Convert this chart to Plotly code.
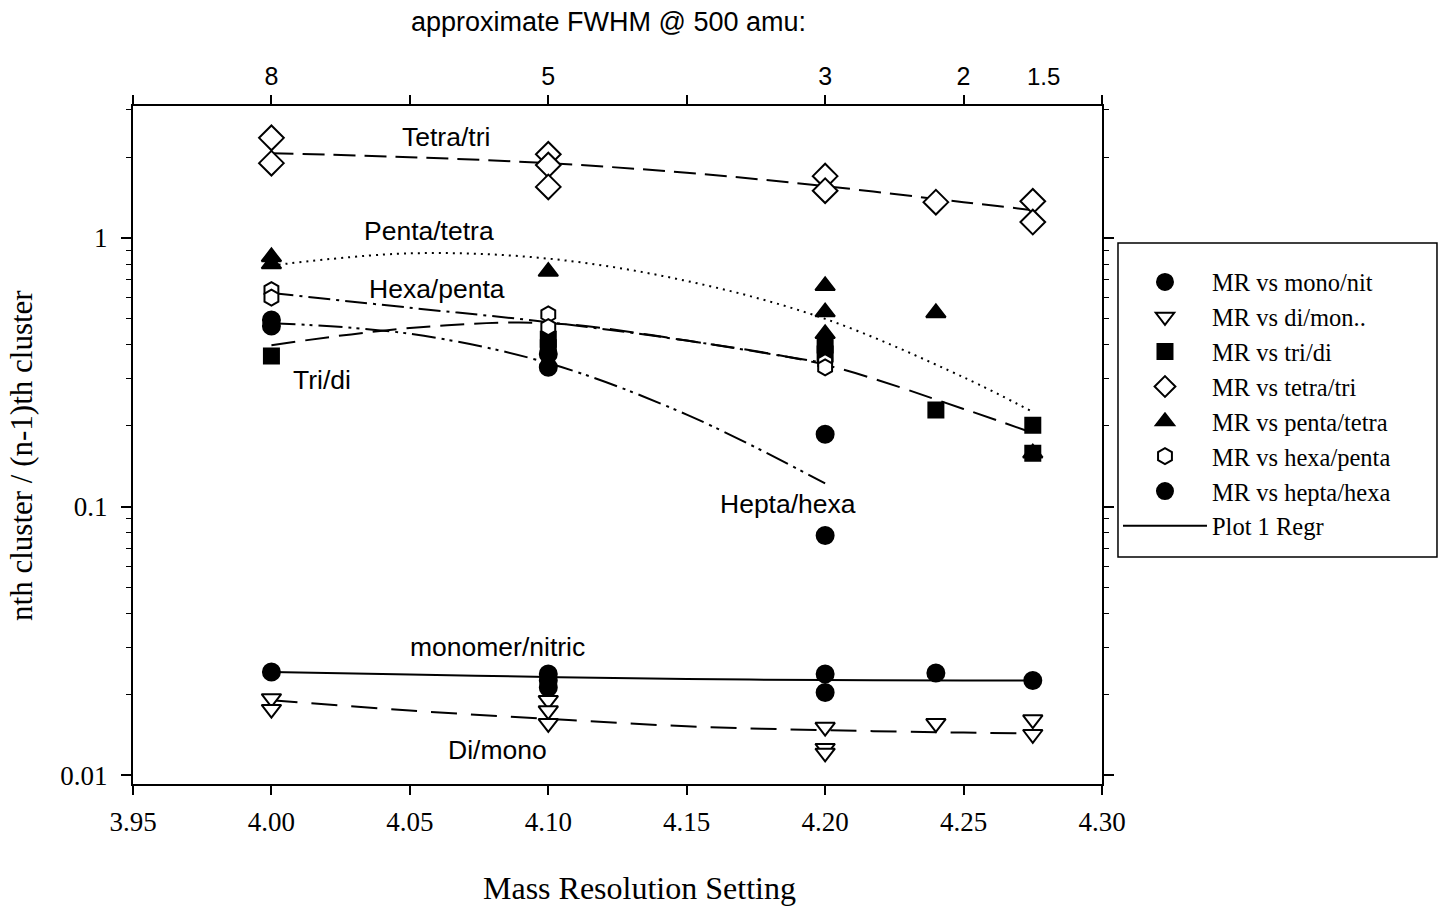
import math
import plotly.graph_objects as go

# ---------------- data ----------------
mono_x = [4.00, 4.10, 4.10, 4.10, 4.20, 4.20, 4.24, 4.275]
mono_y = [0.0242, 0.0238, 0.0225, 0.0212, 0.0238, 0.0203, 0.0240, 0.0225]

di_x = [4.00, 4.00, 4.10, 4.10, 4.10, 4.20, 4.20, 4.20, 4.24, 4.275, 4.275]
di_y = [0.0193, 0.0176, 0.0190, 0.0174, 0.0156, 0.0151, 0.0126, 0.0121, 0.0156, 0.0161, 0.0142]

tri_x = [4.00, 4.10, 4.10, 4.20, 4.20, 4.24, 4.275, 4.275]
tri_y = [0.364, 0.42, 0.39, 0.40, 0.37, 0.229, 0.201, 0.158]

tetra_x = [4.00, 4.00, 4.10, 4.10, 4.10, 4.20, 4.20, 4.24, 4.275, 4.275]
tetra_y = [2.36, 1.90, 2.05, 1.87, 1.55, 1.70, 1.50, 1.36, 1.37, 1.147]

penta_x = [4.00, 4.00, 4.10, 4.20, 4.20, 4.20, 4.24, 4.275]
penta_y = [0.85, 0.80, 0.75, 0.664, 0.530, 0.44, 0.526, 0.158]

hexa_x = [4.00, 4.00, 4.10, 4.10, 4.20, 4.20]
hexa_y = [0.64, 0.60, 0.52, 0.466, 0.345, 0.33]

hepta_x = [4.00, 4.00, 4.10, 4.10, 4.20, 4.20]
hepta_y = [0.495, 0.47, 0.37, 0.33, 0.186, 0.078]

# regression curves
fit_x_long = [4.00, 4.05, 4.10, 4.15, 4.20, 4.25, 4.275]
fit_x_short = [4.00, 4.05, 4.10, 4.15, 4.20]
tetra_fit = [2.07, 2.00, 1.90, 1.75, 1.56, 1.36, 1.27]
penta_fit = [0.79, 0.877, 0.838, 0.692, 0.50, 0.303, 0.225]
tri_fit = [0.399, 0.462, 0.482, 0.415, 0.337, 0.231, 0.188]
mono_fit = [0.0242, 0.0237, 0.0232, 0.0228, 0.0226, 0.0225, 0.0225]
di_fit = [0.0190, 0.0174, 0.0162, 0.0152, 0.0147, 0.0144, 0.0143]
hexa_fit = [0.624, 0.55, 0.486, 0.415, 0.342]
hepta_fit = [0.482, 0.44, 0.342, 0.22, 0.122]

bottom_ticks = [3.95, 4.00, 4.05, 4.10, 4.15, 4.20, 4.25, 4.30]
top_tick_vals = [3.95, 4.00, 4.05, 4.10, 4.15, 4.20, 4.25, 4.30]
top_tick_text = ["", "8", "", "5", "", "3", "2", ""]
extra_top_label = "1.5"
extra_top_x = 4.2787

curve_labels = ["Tetra/tri", "Penta/tetra", "Hexa/penta", "Tri/di",
                "Hepta/hexa", "monomer/nitric", "Di/mono"]
curve_label_x = [4.0631, 4.0569, 4.0598, 4.0183, 4.1866, 4.0815, 4.0818]
curve_label_y = [2.378, 1.062, 0.646, 0.296, 0.1021, 0.0301, 0.01239]

SERIF = "Liberation Serif"
SANS = "Liberation Sans"

fig = go.Figure()

def add_line(x, y, dash, name="", show=False, rank=100):
    fig.add_trace(go.Scatter(
        x=x, y=y, mode="lines", name=name, showlegend=show, legendrank=rank,
        line=dict(color="black", width=2, dash=dash, shape="spline", smoothing=1.0),
        hoverinfo="skip"))

add_line(fit_x_long, tetra_fit, "22px,9px")
add_line(fit_x_long, penta_fit, "2px,5px")
add_line(fit_x_short, hexa_fit, "22px,6px,3px,6px")
add_line(fit_x_long, tri_fit, "24px,10px")
add_line(fit_x_short, hepta_fit, "24px,6px,3px,5px,3px,6px")
add_line(fit_x_long, di_fit, "26px,14px")
add_line(fit_x_long, mono_fit, "solid", name="Plot 1 Regr", show=True, rank=8)

def add_pts(x, y, symbol, fill, name, rank, size=17):
    fig.add_trace(go.Scatter(
        x=x, y=y, mode="markers", name=name, legendrank=rank,
        marker=dict(symbol=symbol, size=size, color=fill,
                    line=dict(color="black", width=2)),
        cliponaxis=False))

add_pts(tri_x, tri_y, "square", "black", "MR vs tri/di", 3, 15)
add_pts(hepta_x, hepta_y, "circle", "black", "MR vs hepta/hexa", 7, 17)
add_pts(penta_x, penta_y, "triangle-up", "black", "MR vs penta/tetra", 5, 17)
add_pts(hexa_x, hexa_y, "hexagon", "white", "MR vs hexa/penta", 6, 16)
add_pts(tetra_x, tetra_y, "diamond", "white", "MR vs tetra/tri", 4, 19)
add_pts(mono_x, mono_y, "circle", "black", "MR vs mono/nit", 1, 17)
add_pts(di_x, di_y, "triangle-down", "white", "MR vs di/mon..", 2, 17)

# invisible trace so the top axis is drawn
fig.add_trace(go.Scatter(x=[3.95, 4.30], y=[None, None], xaxis="x2", mode="markers",
                         showlegend=False, hoverinfo="skip"))

# ---------------- labels on the curves ----------------
for txt, lx, ly in zip(curve_labels, curve_label_x, curve_label_y):
    fig.add_annotation(x=lx, y=math.log10(ly), xref="x", yref="y", text=txt,
                       showarrow=False, xanchor="center", yanchor="middle",
                       font=dict(family=SANS, size=26.5, color="black"))

fig.add_annotation(x=extra_top_x, y=1.0442, xref="x", yref="paper", text=extra_top_label,
                   showarrow=False, xanchor="center", yanchor="middle",
                   font=dict(family=SANS, size=24, color="black"))

fig.add_annotation(x=0.4902, y=1.1239, xref="paper", yref="paper",
                   text="approximate FWHM @ 500 amu:", showarrow=False,
                   xanchor="center", yanchor="middle",
                   font=dict(family=SANS, size=27, color="black"))
fig.add_annotation(x=0.5232, y=-0.1534, xref="paper", yref="paper",
                   text="Mass Resolution Setting", showarrow=False,
                   xanchor="center", yanchor="middle",
                   font=dict(family=SERIF, size=32, color="black"))
fig.add_annotation(x=-0.1146, y=0.4853, xref="paper", yref="paper",
                   text="nth cluster / (n-1)th cluster", showarrow=False, textangle=-90,
                   xanchor="center", yanchor="middle",
                   font=dict(family=SERIF, size=31, color="black"))

# legend frame
fig.add_shape(type="rect", xref="paper", yref="paper",
              x0=1.0165, x1=1.3457, y0=0.3348, y1=0.798,
              line=dict(color="black", width=1.5), fillcolor="white", layer="below")

minor_vals = [m * d for d in (0.01, 0.1, 1.0) for m in range(2, 10) if m * d < 3.2]

fig.update_layout(
    width=1443, height=911,
    margin=dict(l=133, r=341, t=106, b=127),
    paper_bgcolor="white", plot_bgcolor="rgba(0,0,0,0)",
    xaxis=dict(range=[3.95, 4.30], tickvals=bottom_ticks,
               ticktext=[f"{v:.2f}" for v in bottom_ticks],
               showgrid=False, zeroline=False, showline=True, linecolor="black",
               linewidth=2, ticks="outside", ticklen=9, tickwidth=1.5, tickcolor="black",
               ticklabelstandoff=4,
               tickfont=dict(family=SERIF, size=27, color="black")),
    xaxis2=dict(range=[3.95, 4.30], overlaying="x", side="top", anchor="y",
                tickvals=top_tick_vals, ticktext=top_tick_text,
                showgrid=False, zeroline=False, showline=True, linecolor="black",
                linewidth=2, ticks="outside", ticklen=9, tickwidth=1.5, tickcolor="black",
                tickfont=dict(family=SANS, size=25, color="black")),
    yaxis=dict(type="log", range=[-2.033, 0.4916],
               tickvals=[0.01, 0.1, 1], ticktext=["0.01", "0.1", "1"],
               showgrid=False, zeroline=False, showline=True, linecolor="black",
               linewidth=2, ticks="outside", ticklen=10, tickwidth=1.5, tickcolor="black",
               mirror="ticks", ticklabelstandoff=8,
               minor=dict(tickvals=minor_vals, ticks="outside", ticklen=5,
                          tickwidth=1.2, tickcolor="black", showgrid=False),
               tickfont=dict(family=SERIF, size=27, color="black")),
    legend=dict(x=1.0165, y=0.7736, xanchor="left", yanchor="top",
                borderwidth=0, bgcolor="rgba(0,0,0,0)",
                font=dict(family=SERIF, size=24.5, color="black"),
                itemwidth=84, tracegroupgap=0, traceorder="normal"),
    showlegend=True,
)

fig.write_html("out.html")
